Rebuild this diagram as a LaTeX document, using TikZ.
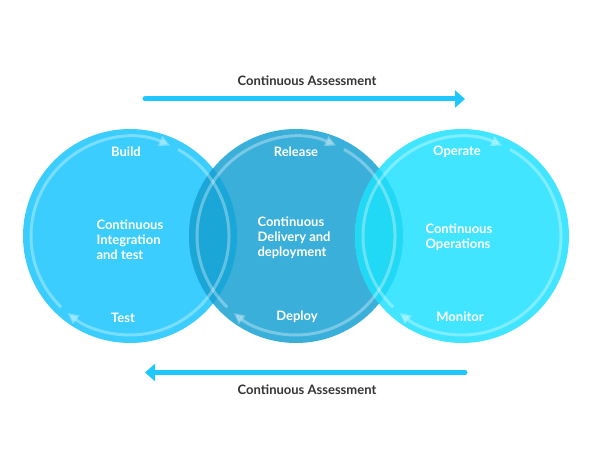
\documentclass[tikz,border=0pt]{standalone}
\usepackage{fontspec}
\setmainfont{Lato}
\usetikzlibrary{arrows.meta}

\definecolor{ciblue}{HTML}{3ACDFE}
\definecolor{cdblue}{HTML}{3AAFD9}
\definecolor{coblue}{HTML}{42E5FF}
\definecolor{lensleft}{HTML}{1AA6D6}
\definecolor{lensright}{HTML}{21D8F5}
\definecolor{assessblue}{HTML}{1EC8FF}
\definecolor{assessgray}{HTML}{333333}

\tikzset{
    phase/.style={text=white, font=\bfseries\fontsize{13}{15}\selectfont},
    stage/.style={text=white, anchor=west, align=left, font=\bfseries\fontsize{13}{15}\selectfont},
    assess/.style={text=assessgray, font=\bfseries\fontsize{13}{15}\selectfont},
    ring/.style={draw=white, opacity=0.32, line width=3pt, -{Triangle[length=11pt,width=10pt]}},
    bigarrow/.style={draw=assessblue, line width=5pt, line cap=round, -{Triangle[length=10pt,width=17pt]}}
}

\begin{document}
\begin{tikzpicture}[x=1pt,y=1pt]
        \useasboundingbox (0,0) rectangle (589,453);

        \coordinate (ci) at (130,217);
        \coordinate (cd) at (296,217);
        \coordinate (co) at (462,217);

        % circles
        \fill[ciblue] (ci) circle[radius=107pt];
        \fill[cdblue] (cd) circle[radius=107pt];
        \fill[coblue] (co) circle[radius=107pt];

        \begin{scope}
            \clip (ci) circle[radius=107pt];
            \fill[lensleft] (cd) circle[radius=107pt];
        \end{scope}
        \begin{scope}
            \clip (co) circle[radius=107pt];
            \fill[lensright] (cd) circle[radius=107pt];
        \end{scope}

        % rings
        \path[ring] ([shift={(226:99pt)}]ci) arc[start angle=226, end angle=66, radius=99pt];
        \path[ring] ([shift={(61:99pt)}]ci) arc[start angle=61, end angle=-129, radius=99pt];
        \path[ring] ([shift={(226:99pt)}]cd) arc[start angle=226, end angle=66, radius=99pt];
        \path[ring] ([shift={(61:99pt)}]cd) arc[start angle=61, end angle=-129, radius=99pt];
        \path[ring] ([shift={(226:99pt)}]co) arc[start angle=226, end angle=66, radius=99pt];
        \path[ring] ([shift={(61:99pt)}]co) arc[start angle=61, end angle=-129, radius=99pt];

        \node[phase] (build) at (126,301) {Build};
        \node[phase] (test) at (123,135) {Test};
        \node[phase] (release) at (296,301) {Release};
        \node[phase] (deploy) at (297,136) {Deploy};
        \node[phase] (operate) at (457,301) {Operate};
        \node[phase] (monitor) at (460,136) {Monitor};

        \node[stage] (integration) at (93,213) {Continuous\\Integration\\and test};
        \node[stage] (delivery) at (254,215) {Continuous\\Delivery and\\deployment};
        \node[stage] (operations) at (422,216) {Continuous\\Operations};

        % continuous assessment
        \node[assess] (assesstop) at (307,372) {Continuous Assessment};
        \node[assess] (assessbottom) at (307,63) {Continuous Assessment};

        \coordinate (topstart) at (145,354);
        \coordinate (topend) at (465,354);
        \coordinate (bottomstart) at (465,80.5);
        \coordinate (bottomend) at (145,80.5);

        \path[bigarrow] (topstart) -- (topend);
        \path[bigarrow] (bottomstart) -- (bottomend);

    \end{tikzpicture}
\end{document}
